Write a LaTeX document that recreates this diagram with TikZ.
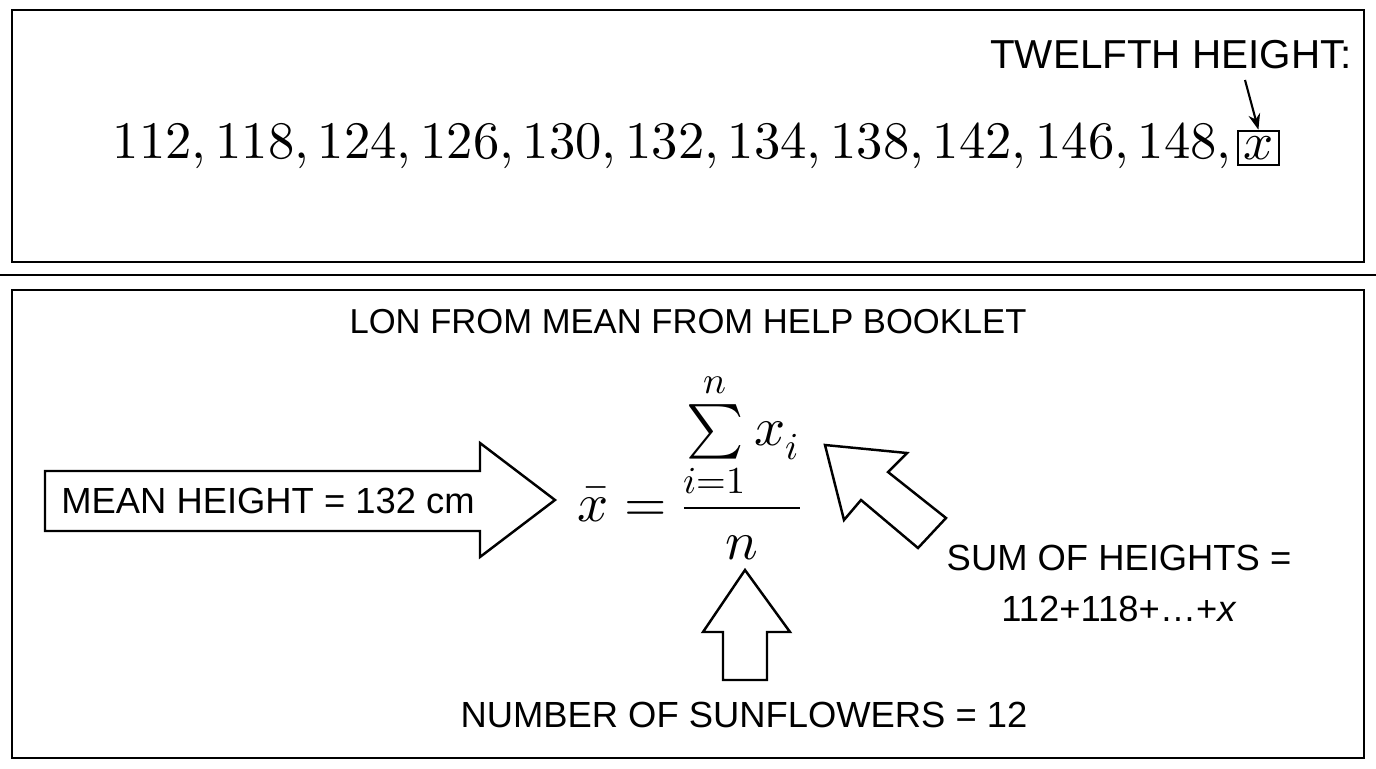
\documentclass[tikz,border=0pt]{standalone}
\usepackage{amsmath}
\usepackage{fontspec}
\setmainfont{Liberation Sans}
\usepackage{unicode-math}
\setmathfont{Latin Modern Math}
\usetikzlibrary{arrows.meta}
\tikzset{
  panel/.style={draw,line width=1.4pt},
  label/.style={font=\fontsize{20.7}{25}\selectfont,inner sep=0pt},
  blockarrow/.style={draw,line width=1.4pt,line join=miter,fill=white},
}
\begin{document}
\begin{tikzpicture}[x=0.02cm,y=-0.02cm]
\useasboundingbox (0,0) rectangle (1376,768);
% panels
\draw[panel] (12,10) rectangle (1364,262);
\draw[panel] (0,275) -- (1376,275);
\draw[panel] (12,290) rectangle (1364,758);

% top panel
\node[inner sep=0pt,anchor=east] (list) at (1232,146)
  {\fontsize{30}{34}\selectfont $112,118,124,126,130,132,134,138,142,146,148,$};
\node[draw,line width=1.2pt,inner sep=3pt,anchor=west] (twelfth) at (1237,148)
  {\fontsize{30}{34}\selectfont $x$};
\node[label,font=\fontsize{23}{27}\selectfont,anchor=east] (twelfthlbl) at (1352,55) {TWELFTH HEIGHT:};
\coordinate (T) at (1245,80);
\draw[-{Stealth[length=9pt]},line width=1.2pt] (T) -- (twelfth.north);

% bottom panel
\node[label,font=\fontsize{19.7}{24}\selectfont] (source) at (688,322) {LON FROM MEAN FROM HELP BOOKLET};
\node[inner sep=0pt] (formula) at (690,465)
  {\fontsize{31}{36}\selectfont $\displaystyle \bar{x} = \frac{\sum\limits_{i=1}^{n} x_i}{n}$};

\draw[blockarrow] (45,471) -- (480,471) -- (480,443) -- (555,500) -- (480,557)
  -- (480,531) -- (45,531) -- cycle;
\node[label] (mean) at (268,501) {MEAN HEIGHT = 132 cm};

\draw[blockarrow] (745,570) -- (790,632) -- (767,632) -- (767,680) -- (723,680)
  -- (723,632) -- (703,632) -- cycle;
\node[label] (count) at (744,715) {NUMBER OF SUNFLOWERS = 12};

\draw[blockarrow] (825,445) -- (907,453) -- (888,472) -- (946,518) -- (918,548)
  -- (861,500) -- (844,520) -- cycle;
\node[label,align=center] (sum) at (1119,583) {SUM OF HEIGHTS =\\[4pt]112+118+\dots+\textit{x}};
\end{tikzpicture}
\end{document}
